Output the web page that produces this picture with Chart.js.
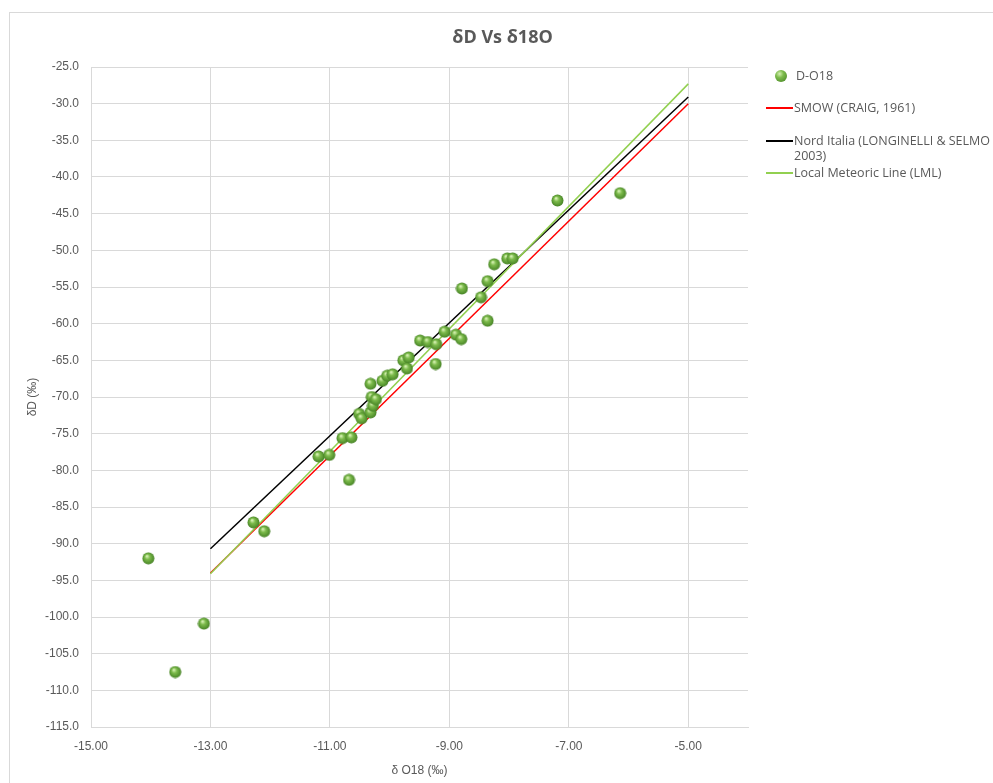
<!DOCTYPE html>
<html lang="it">
<head>
<meta charset="utf-8">
<title>δD Vs δ18O</title>
<script src="https://cdn.jsdelivr.net/npm/chart.js@4.4.1/dist/chart.umd.min.js"></script>
<style>
    html, body { margin: 0; padding: 0; background: #fff; overflow: hidden; }
    #cornice { position: absolute; left: 9px; top: 12px; width: 1100px; height: 900px; border: 1px solid #d9d9d9; }
    #grafico { position: absolute; left: 0; top: 0; }
    #legenda { position: absolute; left: 0; top: 0; font-family: 'Open Sans', sans-serif; font-size: 12.5px; color: #595959; }
    #legenda .testo { position: absolute; white-space: nowrap; line-height: 15px; }
    #legenda .linea { position: absolute; left: 766px; width: 27px; height: 2px; }
    #legenda .pallino { position: absolute; left: 775px; top: 70px; width: 12px; height: 12px; border-radius: 50%;
        background: radial-gradient(circle at 38% 32%, #d4f0b0 0, #7dbb4c 35%, #4f8d2b 85%, #3d7220 100%); }
</style>
</head>
<body>
<div id="cornice"></div>
<canvas id="grafico" width="993" height="783"></canvas>
<div id="legenda">
    <span class="pallino"></span>
    <span class="testo" style="left:796px; top:68px;">D-O18</span>

    <span class="linea" style="top:107px; background:#ff0000;"></span>
    <span class="testo" style="left:794px; top:100px;">SMOW (CRAIG, 1961)</span>

    <span class="linea" style="top:140px; background:#000000;"></span>
    <span class="testo" style="left:794px; top:133px;">Nord Italia (LONGINELLI &amp; SELMO<br>2003)</span>

    <span class="linea" style="top:172px; background:#92d050;"></span>
    <span class="testo" style="left:794px; top:165px;">Local Meteoric Line (LML)</span>
</div>

<script>
// --- DATI ---
const xO18 = [-14.04, -13.59, -13.11, -12.28, -12.10, -11.19, -11.01, -10.79, -10.64, -10.68,
              -10.51, -10.47, -10.32, -10.28, -10.30, -10.23, -10.32, -10.12, -10.04, -9.95,
              -9.77, -9.68, -9.71, -9.23, -9.49, -9.36, -9.22, -9.08, -8.89, -8.80,
              -8.36, -8.47, -8.79, -8.36, -8.25, -8.03, -7.94, -7.19, -6.14];
const yD   = [-92.0, -107.5, -100.9, -87.1, -88.3, -78.1, -77.9, -75.6, -75.5, -81.3,
              -72.3, -72.9, -72.1, -71.2, -70.0, -70.3, -68.2, -67.8, -67.1, -66.9,
              -65.0, -64.6, -66.1, -65.5, -62.3, -62.5, -62.8, -61.1, -61.5, -62.1,
              -59.6, -56.4, -55.2, -54.2, -51.9, -51.1, -51.1, -43.2, -42.2];

// rette di riferimento (estremi)
const retteX = [-13, -5];
const smowY  = [-94.0, -30.0];
const nordY  = [-90.7, -29.1];
const lmlY   = [-94.1, -27.3];

const xTicks = [-15, -13, -11, -9, -7, -5];

const GRIGIO = '#595959';
const GRIGLIA = '#d9d9d9';
const FONT_ASSI = "'Liberation Sans', Arial, sans-serif";

// pallino verde "3D" come nell'originale
function creaPallino() {
    const c = document.createElement('canvas');
    c.width = 13; c.height = 13;
    const g = c.getContext('2d');
    const grad = g.createRadialGradient(5, 4.2, 0.5, 6.5, 6.5, 6.5);
    grad.addColorStop(0, '#d4f0b0');
    grad.addColorStop(0.35, '#7dbb4c');
    grad.addColorStop(0.85, '#4f8d2b');
    grad.addColorStop(1, '#3d7220');
    g.fillStyle = grad;
    g.beginPath();
    g.arc(6.5, 6.5, 6, 0, Math.PI * 2);
    g.fill();
    return c;
}

function retta(ys) {
    return retteX.map((x, i) => ({ x: x, y: ys[i] }));
}

const punti = xO18.map((x, i) => ({ x: x, y: yD[i] }));

new Chart(document.getElementById('grafico'), {
    type: 'scatter',
    data: {
        datasets: [
            { label: 'D-O18', data: punti, pointStyle: creaPallino(), pointRadius: 6, showLine: false, order: 0 },
            { label: 'SMOW (CRAIG, 1961)', data: retta(smowY), showLine: true, pointRadius: 0,
              borderColor: '#ff0000', borderWidth: 1.5, order: 3 },
            { label: 'Nord Italia (LONGINELLI & SELMO 2003)', data: retta(nordY), showLine: true, pointRadius: 0,
              borderColor: '#000000', borderWidth: 1.5, order: 2 },
            { label: 'Local Meteoric Line (LML)', data: retta(lmlY), showLine: true, pointRadius: 0,
              borderColor: '#92d050', borderWidth: 1.5, order: 1 }
        ]
    },
    options: {
        responsive: false,
        animation: false,
        layout: { padding: { left: 12, top: 12, right: 0, bottom: 0 } },
        plugins: {
            legend: { display: false },
            tooltip: { enabled: false },
            title: {
                display: true,
                text: 'δD Vs δ18O',
                color: GRIGIO,
                font: { family: "'Open Sans', sans-serif", size: 18, weight: 'bold' },
                padding: { top: 15, bottom: 18.4 }
            }
        },
        scales: {
            x: {
                type: 'linear',
                position: 'bottom',
                min: -15,
                max: -4,
                afterBuildTicks: s => { s.ticks = xTicks.map(v => ({ value: v })); },
                afterFit: s => { s.height = 56; },
                ticks: {
                    color: GRIGIO,
                    padding: 12,
                    font: { family: FONT_ASSI, size: 12 },
                    callback: v => Number(v).toFixed(2)
                },
                grid: { color: GRIGLIA, drawTicks: false },
                border: { color: GRIGLIA },
                title: {
                    display: true,
                    text: 'δ O18 (‰)',
                    color: GRIGIO,
                    font: { family: FONT_ASSI, size: 12 },
                    padding: { top: 0, bottom: 5 }
                }
            },
            y: {
                type: 'linear',
                position: 'left',
                min: -115,
                max: -25,
                afterFit: s => { s.width = 79; },
                ticks: {
                    stepSize: 5,
                    color: GRIGIO,
                    padding: 12,
                    font: { family: FONT_ASSI, size: 12 },
                    callback: v => Number(v).toFixed(1)
                },
                grid: { color: GRIGLIA, drawTicks: false },
                border: { color: GRIGLIA },
                title: {
                    display: true,
                    text: 'δD (‰)',
                    color: GRIGIO,
                    font: { family: FONT_ASSI, size: 12 },
                    padding: { top: 13, bottom: 0 }
                }
            },
            // asse vuoto a destra: lascia lo spazio per la legenda
            spazio: {
                type: 'linear',
                position: 'right',
                afterFit: s => { s.width = 245; },
                ticks: { display: false },
                grid: { display: false },
                border: { display: false }
            }
        }
    }
});
</script>
</body>
</html>
